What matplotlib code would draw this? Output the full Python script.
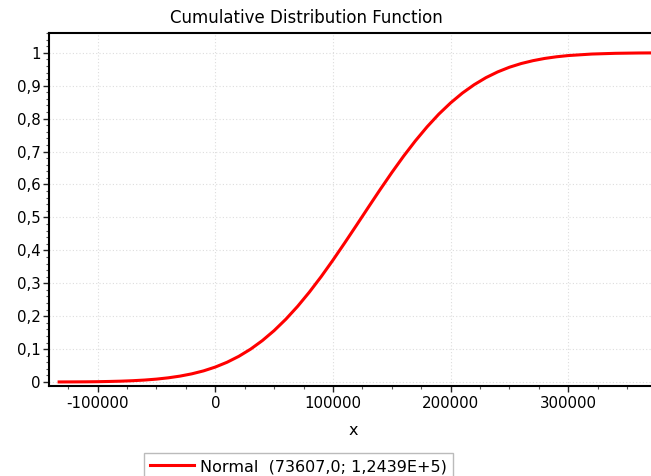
import matplotlib

matplotlib.use("Agg")
import matplotlib.pyplot as plt
from matplotlib.ticker import FuncFormatter, MultipleLocator
from matplotlib.lines import Line2D

plt.rcParams["font.family"] = ["DejaVu Sans"]

# CDF
x_vals = [-134000, -120000, -110000, -100000, -90000, -80000, -70000, -60000,
          -50000, -40000, -30000, -20000, -10000, 0, 10000, 20000, 30000,
          40000, 50000, 60000, 70000, 80000, 90000, 100000, 110000, 120000,
          130000, 140000, 150000, 160000, 170000, 180000, 190000, 200000,
          210000, 220000, 230000, 240000, 250000, 260000, 270000, 280000,
          290000, 300000, 320000, 340000, 360000, 380000]
cdf_vals = [0.0003, 0.0005, 0.0007, 0.0011, 0.0018, 0.0027, 0.0041, 0.0061,
            0.0089, 0.0128, 0.0180, 0.0249, 0.0339, 0.0455, 0.0601, 0.0781,
            0.0999, 0.1259, 0.1562, 0.1909, 0.2300, 0.2733, 0.3202, 0.3703,
            0.4227, 0.4762, 0.5304, 0.5840, 0.6361, 0.6858, 0.7323, 0.7751,
            0.8138, 0.8478, 0.8776, 0.9030, 0.9244, 0.9419, 0.9561, 0.9673,
            0.9760, 0.9828, 0.9878, 0.9915, 0.9961, 0.9983, 0.9993, 0.9997]
series_label = "Normal  (73607,0; 1,2439E+5)"
title = "Cumulative Distribution Function"


def comma_fmt(v, pos):
    if abs(v - round(v)) < 1e-9:
        return f"{v:.0f}"
    return f"{v:.1f}".replace(".", ",")


W, H = 651, 476
fig = plt.figure(figsize=(W / 100, H / 100), dpi=100)
ax = fig.add_axes([49 / W, (H - 386) / H, (W - 49) / W + 0.01, (386 - 33) / H])

ax.plot(x_vals, cdf_vals, color="#ff0000", lw=2.2, solid_capstyle="butt")

ax.set_xlim(-141300, 375800)
ax.set_ylim(-0.012, 1.06)

ax.xaxis.set_major_locator(MultipleLocator(100000))
ax.xaxis.set_minor_locator(MultipleLocator(25000))
ax.yaxis.set_major_locator(MultipleLocator(0.1))
ax.yaxis.set_minor_locator(MultipleLocator(0.02))
ax.yaxis.set_major_formatter(FuncFormatter(comma_fmt))
ax.xaxis.set_major_formatter(FuncFormatter(lambda v, p: f"{v:.0f}"))

ax.grid(True, which="major", color="#dddddd", linestyle=(0, (1, 2)), lw=0.8)
ax.tick_params(which="major", direction="out", length=4, width=1, labelsize=10.8,
               colors="#222222", labelcolor="black")
ax.tick_params(which="minor", direction="out", length=2.5, width=0.8, colors="#555555")
ax.tick_params(axis="y", pad=2)

for s in ["left", "bottom", "top"]:
    ax.spines[s].set_linewidth(1.5)
    ax.spines[s].set_color("black")
ax.spines["right"].set_visible(False)

ax.set_xlabel("x", fontsize=11.5, labelpad=8)
fig.text(306 / W, 1 - 18 / H, title, ha="center", va="center", fontsize=12)

handle = Line2D([], [], color="#ff0000", lw=2.2)
leg = fig.legend([handle], [series_label], loc="upper left",
                 bbox_to_anchor=(144 / W, 1 - 452.7 / H), fontsize=11.5,
                 frameon=True, fancybox=False, handlelength=2.7,
                 handletextpad=0.4, borderpad=0.4, borderaxespad=0)
leg.get_frame().set_edgecolor("#aaaaaa")
leg.get_frame().set_linewidth(1)

fig.savefig("out.png", dpi=100)
